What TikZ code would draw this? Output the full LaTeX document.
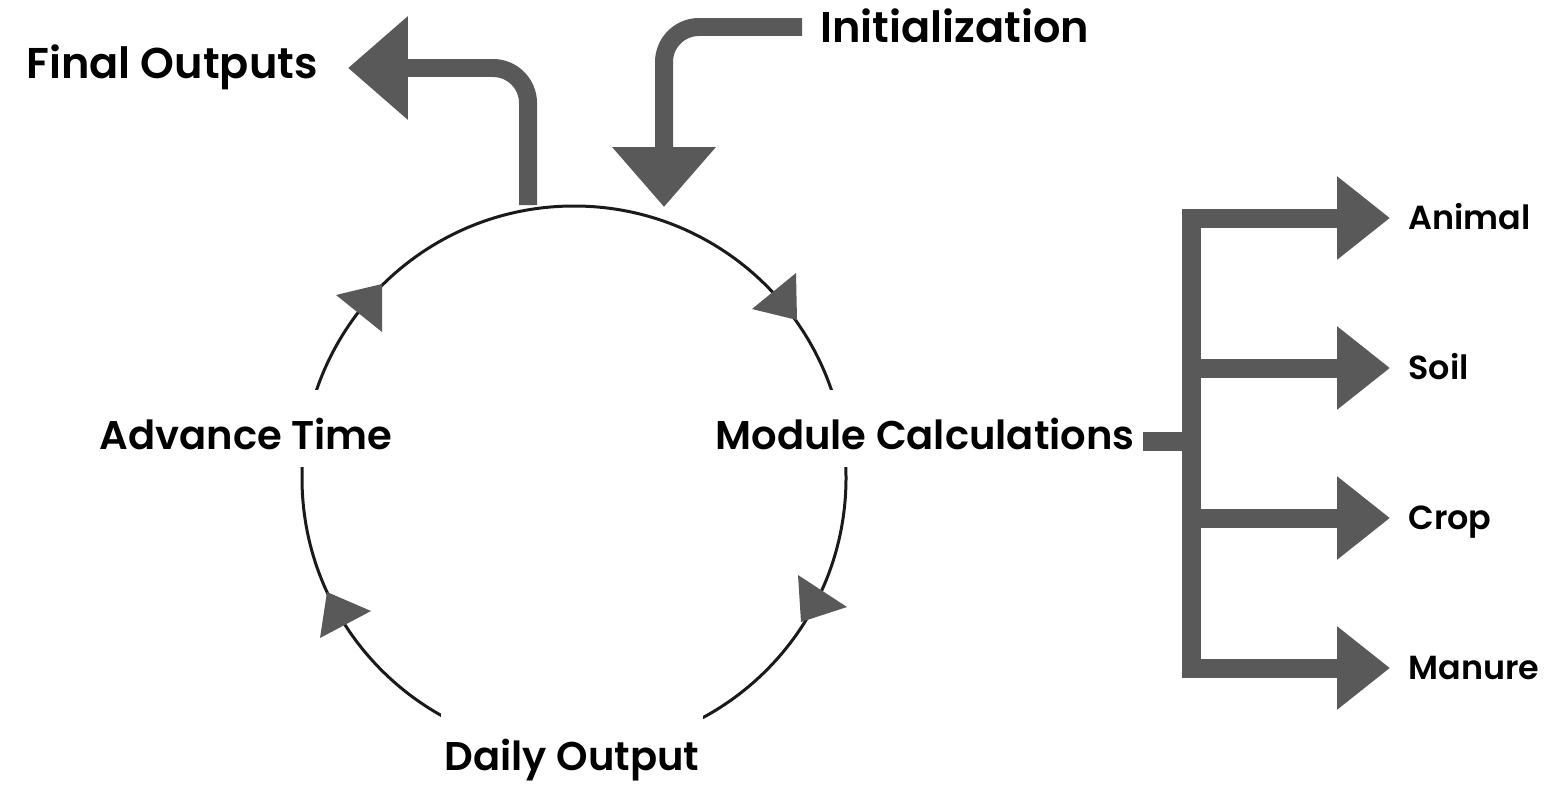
\documentclass[tikz,border=0pt]{standalone}
\usepackage{fontspec}
\setmainfont{Poppins}[BoldFont={Poppins SemiBold}]
\usetikzlibrary{arrows.meta}
\definecolor{flowgray}{HTML}{595959}
\definecolor{ringblack}{HTML}{1A1A1A}

\begin{document}
\begin{tikzpicture}[x=0.02cm, y=-0.02cm, every node/.style={font=\bfseries}]
  % Styles
  \tikzset{
    phase/.style = {font=\fontsize{22.8}{28}\selectfont\bfseries, fill=white, inner xsep=2pt, inner ysep=0pt, text height=1.18cm, text depth=0.36cm},
    io/.style = {font=\fontsize{24.5}{28}\selectfont\bfseries, inner ysep=0pt},
    module/.style = {font=\fontsize{19}{22}\selectfont\bfseries, inner xsep=0.36cm, inner ysep=0pt, text height=0.46cm, text depth=0cm},
    ring/.style = {draw=ringblack, line width=0.06cm},
    feed/.style = {draw=flowgray, line width=0.36cm, rounded corners=0.7cm, -{Triangle[length=1.2cm, width=2cm]}},
    bus/.style = {draw=flowgray, line width=0.38cm, miter limit=10},
    branch/.style = {bus, -{Triangle[length=1.06cm, width=1.6cm]}}
  }

  \useasboundingbox (0,0) rectangle (1550,784);

  % Cycle
  \coordinate (hub) at (574,478);
  \draw[ring] (hub) circle [radius=272];

  % Ring arrowheads
  \fill[flowgray] (336,295) -- (382,284) -- (382,332) -- cycle;
  \fill[flowgray] (752,309) -- (796,273) -- (797,320) -- cycle;
  \fill[flowgray] (798,575) -- (801,622) -- (847,607) -- cycle;
  \fill[flowgray] (327,592) -- (320,638) -- (371,611) -- cycle;

  % Steps on the ring
  \node[phase, anchor=base] (AdvTime) at (246,449) {Advance Time};
  \node[phase, anchor=base] (ModCalc) at (925,449) {Module Calculations};
  \node[phase, anchor=base, text height=1.16cm] (DailyOut) at (572,770) {Daily Output};

  % Entry and exit
  \node[io, anchor=east, inner xsep=0.6cm, text height=0.6cm, text depth=0.16cm] (FinalOut) at (348,68) {Final Outputs};
  \node[io, anchor=west, inner xsep=0.36cm, text height=0.64cm, text depth=0cm] (Init) at (802,27) {Initialization};
  \coordinate (outTap) at (528,205);
  \coordinate (inTap) at (664,207);
  \draw[feed] (outTap) |- (FinalOut.east);
  \draw[feed] (Init.west) -| (inTap);

  % Modules
  \node[module, anchor=west] (Animal) at (1390,218) {Animal};
  \node[module, anchor=west] (Soil) at (1390,368) {Soil};
  \node[module, anchor=west] (Crop) at (1390,518) {Crop};
  \node[module, anchor=west] (Manure) at (1390,668) {Manure};

  \coordinate (stub) at (1143,441);
  \coordinate (fork) at (1191,441);
  \draw[bus] (stub) -- (fork);
  \draw[branch] (fork) |- (Animal.west);
  \draw[branch] (fork) |- (Soil.west);
  \draw[branch] (fork) |- (Crop.west);
  \draw[branch] (fork) |- (Manure.west);

\end{tikzpicture}
\end{document}
